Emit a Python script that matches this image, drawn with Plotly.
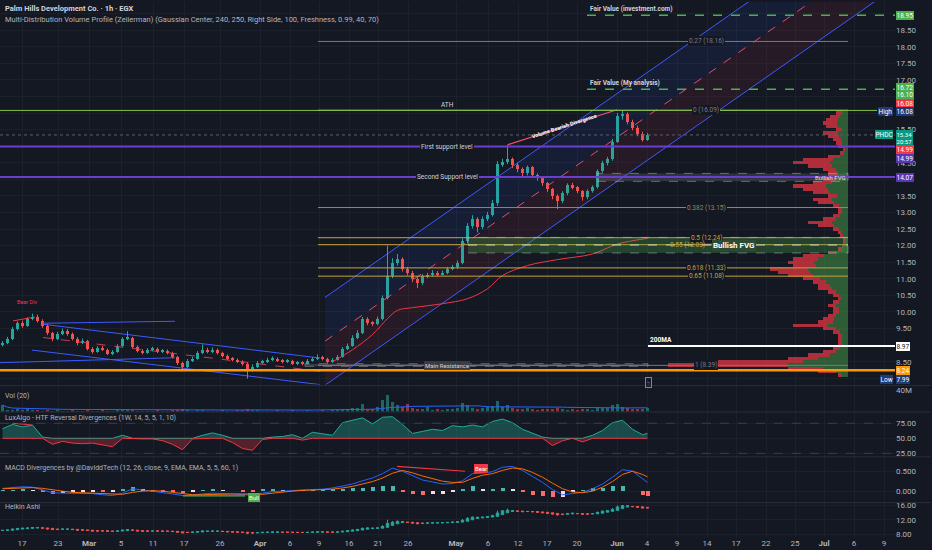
import numpy as np
import pandas as pd
import plotly.graph_objects as go
from plotly.subplots import make_subplots

# ---- 1h candles for PHDC (one entry per plotted bar) ----
first_open = 9.00
closes = [9.07, 9.19, 9.49, 9.67, 9.58, 9.79, 9.85, 9.73, 9.58, 9.37,
          9.19, 9.34, 9.43, 9.34, 9.19, 9.07, 9.13, 8.89, 8.80, 8.92,
          8.86, 8.74, 8.80, 8.98, 9.19, 9.22, 8.95, 8.83, 8.77, 8.86,
          8.89, 8.80, 8.83, 8.77, 8.65, 8.47, 8.35, 8.53, 8.59, 8.77,
          8.86, 8.80, 8.86, 8.77, 8.68, 8.59, 8.56, 8.50, 8.44, 8.29,
          8.35, 8.47, 8.50, 8.56, 8.59, 8.53, 8.50, 8.53, 8.44, 8.47,
          8.44, 8.53, 8.59, 8.65, 8.59, 8.50, 8.56, 8.65, 8.89, 8.98,
          9.22, 9.37, 9.79, 9.67, 9.64, 9.79, 10.42, 11.08, 11.48, 11.60,
          11.30, 11.18, 11.00, 10.87, 11.08, 11.11, 11.18, 11.14, 11.18, 11.30,
          11.36, 11.48, 12.14, 12.59, 12.80, 12.56, 12.80, 12.92, 13.28, 14.45,
          14.51, 14.60, 14.42, 14.30, 14.18, 14.36, 14.12, 14.03, 13.88, 13.70,
          13.49, 13.34, 13.58, 13.82, 13.76, 13.64, 13.46, 13.64, 13.76, 14.24,
          14.48, 14.60, 15.14, 15.92, 15.98, 15.74, 15.56, 15.38, 15.20, 15.34]
highs = [9.12, 9.25, 9.55, 9.72, 9.74, 9.84, 9.95, 9.92, 9.78, 9.62,
         9.40, 9.40, 9.50, 9.48, 9.38, 9.24, 9.20, 9.16, 8.94, 8.97,
         8.98, 8.90, 8.85, 9.03, 9.24, 9.42, 9.25, 8.99, 8.88, 8.91,
         8.95, 8.93, 8.88, 8.87, 8.80, 8.68, 8.50, 8.58, 8.65, 8.82,
         9.02, 8.92, 8.93, 8.90, 8.80, 8.72, 8.64, 8.60, 8.54, 8.47,
         8.42, 8.52, 8.56, 8.62, 8.66, 8.63, 8.58, 8.58, 8.56, 8.52,
         8.51, 8.58, 8.64, 8.72, 8.68, 8.62, 8.61, 8.70, 8.94, 9.05,
         9.30, 9.45, 9.85, 9.84, 9.72, 9.86, 10.50, 12.00, 11.62, 11.75,
         11.65, 11.36, 11.24, 11.05, 11.14, 11.18, 11.26, 11.24, 11.25, 11.36,
         11.42, 11.55, 12.22, 12.68, 12.92, 12.86, 12.88, 13.02, 13.38, 14.55,
         14.62, 15.05, 14.66, 14.50, 14.36, 14.42, 14.40, 14.18, 14.08, 13.92,
         13.74, 13.55, 13.64, 13.88, 13.90, 13.80, 13.68, 13.70, 13.82, 14.30,
         14.56, 14.68, 15.22, 16.00, 16.08, 16.02, 15.80, 15.62, 15.44, 15.40]
lows = [8.96, 9.03, 9.15, 9.44, 9.52, 9.55, 9.75, 9.68, 9.52, 9.30,
        9.12, 9.15, 9.30, 9.28, 9.14, 9.00, 9.03, 8.84, 8.74, 8.77,
        8.82, 8.70, 8.70, 8.77, 8.95, 9.15, 8.90, 8.78, 8.72, 8.74,
        8.82, 8.76, 8.76, 8.72, 8.60, 8.40, 8.22, 8.31, 8.49, 8.56,
        8.73, 8.75, 8.76, 8.72, 8.63, 8.55, 8.51, 8.46, 8.38, 7.99,
        8.20, 8.31, 8.43, 8.46, 8.52, 8.49, 8.45, 8.46, 8.40, 8.40,
        8.39, 8.41, 8.50, 8.55, 8.54, 8.45, 8.46, 8.53, 8.62, 8.85,
        8.95, 9.18, 9.33, 9.60, 9.58, 9.60, 9.75, 10.38, 11.02, 11.40,
        11.22, 11.10, 10.90, 10.72, 10.82, 11.02, 11.06, 11.08, 11.10, 11.14,
        11.26, 11.30, 11.44, 12.08, 12.52, 12.40, 12.50, 12.74, 12.88, 13.20,
        14.38, 14.46, 14.34, 14.22, 14.10, 14.12, 14.04, 13.96, 13.80, 13.62,
        13.40, 13.10, 13.28, 13.52, 13.70, 13.58, 13.36, 13.40, 13.60, 13.72,
        14.20, 14.42, 14.56, 15.10, 15.80, 15.66, 15.48, 15.30, 15.14, 15.16]
volume_m = [12, 4, 3, 5, 3, 6, 4, 3, 2, 3,
            2, 3, 2, 2, 3, 2, 2, 3, 2, 2,
            3, 2, 2, 4, 3, 6, 3, 2, 2, 2,
            2, 3, 2, 2, 3, 4, 5, 3, 2, 3,
            4, 2, 2, 2, 3, 2, 2, 3, 3, 6,
            4, 3, 2, 2, 2, 3, 2, 2, 3, 2,
            2, 3, 2, 2, 3, 2, 3, 4, 6, 5,
            8, 7, 14, 6, 5, 9, 22, 31, 18, 12,
            9, 14, 8, 6, 5, 10, 4, 5, 4, 6,
            5, 7, 16, 12, 8, 6, 7, 9, 11, 20,
            10, 13, 8, 6, 5, 7, 5, 4, 6, 5,
            6, 8, 5, 4, 5, 4, 5, 6, 4, 9,
            8, 7, 12, 14, 9, 7, 6, 5, 5, 8]

# on-chart moving average (red), sampled points
ma_bars = [66, 70, 74, 77, 79, 82, 88, 93, 97, 100, 105, 111, 118, 123, 129]
ma_vals = [8.50, 8.86, 9.32, 9.80, 10.05, 10.13, 10.25, 10.40, 10.70, 11.10,
           11.40, 11.58, 11.75, 12.05, 12.22]

# LuxAlgo oscillator + MACD, every second bar (last one = last bar)
osc_vals = [66, 73, 69, 72, 52, 40, 45, 42, 41, 42,
            39, 36, 55, 49, 49, 49, 46, 40, 31, 49,
            55, 59, 55, 43, 33, 30, 48, 52, 53, 56,
            47, 60, 58, 55, 76, 80, 84, 74, 85, 86,
            73, 58, 62, 65, 63, 71, 69, 72, 69, 78,
            82, 76, 65, 59, 52, 38, 46, 51, 44, 55,
            63, 76, 80, 65, 56, 58]
macd_vals = [0.07, 0.09, 0.11, 0.10, 0.03, -0.04, -0.05, -0.05, -0.05, -0.06,
             -0.09, -0.11, -0.05, 0.06, 0.03, 0.00, -0.03, -0.07, -0.11, -0.10,
             -0.07, -0.05, -0.06, -0.07, -0.08, -0.10, -0.05, -0.01, 0.00, 0.02,
             0.03, 0.04, 0.05, 0.08, 0.13, 0.18, 0.26, 0.33, 0.44, 0.58,
             0.50, 0.39, 0.28, 0.23, 0.18, 0.19, 0.26, 0.44, 0.45, 0.49,
             0.60, 0.62, 0.52, 0.37, 0.22, 0.04, -0.09, -0.06, -0.03, 0.06,
             0.18, 0.35, 0.54, 0.50, 0.32, 0.22]
signal_vals = [0.06, 0.07, 0.08, 0.09, 0.07, 0.03, 0.00, -0.03, -0.04, -0.05,
               -0.06, -0.08, -0.08, -0.03, 0.00, 0.01, 0.00, -0.03, -0.06, -0.09,
               -0.09, -0.08, -0.07, -0.07, -0.07, -0.08, -0.08, -0.05, -0.02, 0.00,
               0.02, 0.03, 0.04, 0.05, 0.08, 0.12, 0.18, 0.24, 0.33, 0.45,
               0.52, 0.46, 0.38, 0.31, 0.25, 0.22, 0.22, 0.32, 0.40, 0.44,
               0.52, 0.58, 0.56, 0.47, 0.35, 0.20, 0.06, -0.02, -0.04, 0.00,
               0.10, 0.24, 0.42, 0.50, 0.42, 0.36]

# volume profile rows (price 8.1 .. 16.0 step 0.1), bull / bear part
vp_bull = [6, 12, 25, 60, 45, 30, 18, 12, 8, 6,
           6, 6, 6, 8, 12, 20, 15, 14, 12, 9,
           9, 12, 9, 7, 9, 12, 16, 18, 22, 28,
           35, 38, 40, 32, 34, 30, 24, 12, 6, 4,
           3, 3, 5, 6, 9, 14, 16, 12, 8, 6,
           6, 9, 14, 16, 11, 18, 20, 22, 16, 12,
           10, 10, 12, 16, 18, 15, 8, 4, 3, 5,
           6, 7, 9, 10, 6, 10, 11, 10, 8, 6]
vp_bear = [4, 18, 35, 120, 85, 30, 22, 13, 7, 4,
           4, 4, 4, 7, 13, 35, 15, 11, 8, 6,
           6, 8, 6, 3, 6, 8, 14, 12, 13, 17,
           25, 32, 38, 23, 26, 25, 21, 8, 4, 2,
           2, 2, 3, 4, 6, 16, 24, 13, 7, 4,
           4, 6, 16, 19, 9, 17, 25, 33, 19, 13,
           10, 10, 13, 24, 37, 30, 12, 4, 2, 5,
           6, 8, 11, 15, 6, 12, 14, 12, 10, 6]

# levels
fib_names = ["0.27", "0", "0.382", "0.5", "0.55", "0.618", "0.65", "1"]
fib_prices = [18.16, 16.09, 13.15, 12.24, 12.03, 11.33, 11.08, 8.39]
fair_value_inv = 18.95
fair_value_my = 16.72
ath = 16.08
first_support = 14.99
second_support = 14.07
ma200 = 8.97
main_res = 8.24
last_price = 15.34
low_price = 7.99

tick_pos = [3.9, 11.1, 17.3, 23.7, 30.1, 36.3, 43.5, 51.5, 57.5, 63.3, 69.3, 75.1,
            81.1, 90.7, 97.1, 103.1, 108.9, 114.9, 122.9, 128.9, 134.9, 140.9,
            146.7, 152.7, 158.5, 164.3, 170.3, 176.3]
tick_text = ["17", "23", "<b>Mar</b>", "5", "11", "17", "26", "<b>Apr</b>", "6", "9",
             "16", "21", "26", "<b>May</b>", "6", "12", "17", "20", "<b>Jun</b>", "4",
             "9", "14", "17", "22", "25", "<b>Jul</b>", "6", "9"]
price_ticks = [8.5, 9.5, 10.0, 10.5, 11.0, 11.5, 12.0, 12.5, 13.0, 13.5, 14.5, 15.5,
               17.0, 17.5, 18.0, 18.5]
price_grid_only = [8.0, 9.0, 14.0, 15.0, 16.0, 16.5, 19.0]

BG = "#141823"
GRID = "#1c202b"
TXT = "#b2b5be"
UP = "#26a69a"
DN = "#ef5350"
FONT = "Roboto"

bars = list(range(len(closes)))
opens = [first_open] + closes[:-1]
sub_x = list(range(0, len(closes), 2)) + [len(closes) - 1]
XR = [-0.5, 178.5]

fig = make_subplots(rows=5, cols=1, shared_xaxes=True, vertical_spacing=0)

# --- ascending channel fills + lines ---
ch_x = [64.5, 178.5]
ch_low = [7.79, 19.79]
ch_mid = [9.12, 21.12]
ch_up = [10.44, 22.44]
fig.add_trace(go.Scatter(x=ch_x, y=ch_low, mode="lines", line=dict(color="#3d5afe", width=1),
                         hoverinfo="skip"), row=1, col=1)
fig.add_trace(go.Scatter(x=ch_x, y=ch_mid, mode="lines", line=dict(color="#e0506a", width=1, dash="dash"),
                         fill="tonexty", fillcolor="rgba(242,54,69,0.08)", hoverinfo="skip"), row=1, col=1)
fig.add_trace(go.Scatter(x=ch_x, y=ch_up, mode="lines", line=dict(color="#3d5afe", width=1),
                         fill="tonexty", fillcolor="rgba(41,98,255,0.09)", hoverinfo="skip"), row=1, col=1)


def seg(xs, ys, color, width=1, dash="solid", row=1):
    fig.add_trace(go.Scatter(x=xs, y=ys, mode="lines", line=dict(color=color, width=width, dash=dash),
                             hoverinfo="skip"), row=row, col=1)


# descending channel on the left
seg([8.1, 63.5], [9.63, 8.61], "#3d5afe")
seg([5.9, 63.5], [8.85, 7.81], "#3d5afe")
seg([8.1, 34.5], [9.66, 9.72], "#3d5afe")
seg([-0.5, 34.5], [8.47, 8.62], "#3d5afe")
seg([8.1, 63.5], [9.23, 8.21], "#c2405a", 1, "dash")
seg([2.1, 6.5], [9.73, 9.85], "#f23645")
# volume bearish divergence
seg([101.1, 122.9], [15.05, 16.10], "#f0506e", 1.2)

# MA
fig.add_trace(go.Scatter(x=ma_bars, y=ma_vals, mode="lines", line=dict(color="#f23645", width=1),
                         line_shape="spline", hoverinfo="skip"), row=1, col=1)

# candles: wicks as line segments, bodies as floating bars
for is_up, col in [(True, UP), (False, DN)]:
    wx, wy = [], []
    for i, (o, h, l, c) in enumerate(zip(opens, highs, lows, closes)):
        if (c >= o) == is_up:
            wx += [i, i, None]
            wy += [l, h, None]
    fig.add_trace(go.Scatter(x=wx, y=wy, mode="lines", line=dict(color=col, width=1),
                             hoverinfo="skip"), row=1, col=1)
body_base = [min(o, c) for o, c in zip(opens, closes)]
body_len = [max(abs(c - o), 0.02) for o, c in zip(opens, closes)]
body_col = [UP if c >= o else DN for o, c in zip(opens, closes)]
fig.add_trace(go.Bar(x=bars, y=body_len, base=body_base, width=0.55,
                     marker=dict(color=body_col, line=dict(width=0)), hoverinfo="skip"), row=1, col=1)

# volume pane
vol = [v * 1e6 for v in volume_m]
vcol = ["rgba(38,166,154,0.55)" if c >= o else "rgba(239,83,80,0.55)" for o, c in zip(opens, closes)]
fig.add_trace(go.Bar(x=bars, y=vol, marker=dict(color=vcol, line=dict(width=0)), width=0.5,
                     hoverinfo="skip"), row=2, col=1)
vol_ma = pd.Series(vol).rolling(20, min_periods=1).mean()
fig.add_trace(go.Scatter(x=bars, y=vol_ma, mode="lines", line=dict(color="#2962ff", width=1),
                         hoverinfo="skip"), row=2, col=1)

# LuxAlgo oscillator
osc = np.array(osc_vals, dtype=float)
base = [50] * len(osc)
fig.add_trace(go.Scatter(x=sub_x, y=base, mode="lines", line=dict(width=0), hoverinfo="skip"), row=3, col=1)
fig.add_trace(go.Scatter(x=sub_x, y=np.maximum(osc, 50), mode="lines", line=dict(color="#22ab94", width=1),
                         fill="tonexty", fillcolor="rgba(34,171,148,0.35)", hoverinfo="skip"), row=3, col=1)
fig.add_trace(go.Scatter(x=sub_x, y=base, mode="lines", line=dict(width=0), hoverinfo="skip"), row=3, col=1)
fig.add_trace(go.Scatter(x=sub_x, y=np.minimum(osc, 50), mode="lines", line=dict(color="#f23645", width=1),
                         fill="tonexty", fillcolor="rgba(242,54,69,0.3)", hoverinfo="skip"), row=3, col=1)
seg([2, 6], [75, 72], "#f23645", 1, row=3)

# MACD
macd = np.array(macd_vals)
sig = np.array(signal_vals)
hist = macd - sig
hcol = []
for i, h in enumerate(hist):
    prev = hist[i - 1] if i else h
    if h >= 0:
        hcol.append("#4db6ac" if h >= prev else "#d7ece9")
    else:
        hcol.append("#ff6b6b" if h < prev else "#ffd6dc")
fig.add_trace(go.Bar(x=sub_x, y=hist, marker=dict(color=hcol, line=dict(width=0)), width=0.8,
                     hoverinfo="skip"), row=4, col=1)
fig.add_trace(go.Scatter(x=sub_x, y=macd, mode="lines", line=dict(color="#2962ff", width=1),
                         hoverinfo="skip"), row=4, col=1)
fig.add_trace(go.Scatter(x=sub_x, y=sig, mode="lines", line=dict(color="#ff6d00", width=1),
                         hoverinfo="skip"), row=4, col=1)
seg([78.9, 92.5], [0.62, 0.50], "#f23645", 1.2, row=4)
seg([36.1, 48.5], [-0.12, -0.12], "#4caf50", 1.2, row=4)

# Heikin Ashi
ha_close = [(o + h + l + c) / 4 for o, h, l, c in zip(opens, highs, lows, closes)]
ha_open = [(opens[0] + closes[0]) / 2]
for i in range(1, len(closes)):
    ha_open.append((ha_open[-1] + ha_close[i - 1]) / 2)
ha_high = [max(h, o, c) for h, o, c in zip(highs, ha_open, ha_close)]
ha_low = [min(l, o, c) for l, o, c in zip(lows, ha_open, ha_close)]
fig.add_trace(go.Candlestick(x=bars, open=ha_open, high=ha_high, low=ha_low, close=ha_close,
                             increasing=dict(line=dict(color=UP, width=1), fillcolor=UP),
                             decreasing=dict(line=dict(color=DN, width=1), fillcolor=DN),
                             whiskerwidth=0, hoverinfo="skip"), row=5, col=1)

# ---- axes ----
fig.update_xaxes(range=XR, tickvals=tick_pos, ticktext=tick_text, showgrid=True, gridcolor=GRID,
                 gridwidth=1, zeroline=False, showline=False, rangeslider_visible=False,
                 tickfont=dict(color=TXT, size=8, family=FONT), ticks="")
ydef = dict(side="right", showgrid=True, gridcolor=GRID, zeroline=False, showline=False, ticks="",
            tickfont=dict(color=TXT, size=8, family=FONT), fixedrange=True)
fig.update_layout(
    yaxis=dict(domain=[0.2849, 1], range=[7.81, 19.35], tickvals=price_ticks, tickformat=".2f",
               minor=dict(tickvals=price_grid_only, showgrid=True, gridcolor=GRID, ticks=""), **ydef),
    yaxis2=dict(domain=[0.2346, 0.2831], range=[0, 48e6], tickvals=[40e6], ticktext=["40M"], **ydef),
    yaxis3=dict(domain=[0.1508, 0.2328], range=[20, 93], tickvals=[25, 50, 75], tickformat=".2f", **ydef),
    yaxis4=dict(domain=[0.0652, 0.1490], range=[-0.275, 0.85], tickvals=[0, 0.5], tickformat=".3f", **ydef),
    yaxis5=dict(domain=[0, 0.0633], range=[7.2, 16.6], tickvals=[8, 12, 16], tickformat=".2f", **ydef),
)
fig.update_yaxes(showgrid=False, selector=dict(anchor="x2"))

# volume profile on an overlaid axis, anchored at the right edge of the profile box
vp_levels = [round(8.1 + 0.1 * i, 1) for i in range(len(vp_bull))]
fig.update_layout(xaxis6=dict(overlaying="x", anchor="y", range=[848, -47], visible=False, fixedrange=True))
fig.add_trace(go.Bar(y=vp_levels, x=vp_bull, orientation="h", xaxis="x6", yaxis="y", width=0.1,
                     marker=dict(color="rgba(76,175,80,0.45)", line=dict(width=0)), hoverinfo="skip"))
fig.add_trace(go.Bar(y=vp_levels, x=vp_bear, orientation="h", xaxis="x6", yaxis="y", width=0.1,
                     base=vp_bull, marker=dict(color="rgba(242,54,69,0.7)", line=dict(width=0)),
                     hoverinfo="skip"))

# ---- shapes: horizontal levels, boxes ----
shapes = []


def hline(x0, x1, y, color, width=1, dash="solid", yref="y"):
    shapes.append(dict(type="line", xref="x", yref=yref, x0=x0, x1=x1, y0=y, y1=y,
                       line=dict(color=color, width=width, dash=dash), layer="above"))


def box(x0, x1, y0, y1, fill, line, dash="dash"):
    shapes.append(dict(type="rect", xref="x", yref="y", x0=x0, x1=x1, y0=y0, y1=y1,
                       fillcolor=fill, line=dict(color=line, width=1, dash=dash), layer="above"))


fib_colors = ["#787b86", "#787b86", "#8f8c5a", "#c9a43a", "#c9a43a", "#c9a43a", "#c9a43a", "#787b86"]
for p, c in zip(fib_prices, fib_colors):
    hline(63.1, 169.1, p, c)
box(93.1, 169.1, 11.78, 12.25, "rgba(76,175,80,0.28)", "rgba(200,200,200,0.45)")
hline(93.1, 169.1, 12.02, "rgba(230,230,230,0.8)", 1, "dash")
box(118.9, 169.1, 13.94, 14.18, "rgba(140,160,140,0.22)", "rgba(200,200,200,0.45)")
box(60.5, 129.1, 8.36, 8.44, "rgba(120,123,134,0.35)", "rgba(150,150,150,0.6)")
hline(116.9, 178.5, fair_value_inv, "#4caf50", 1.5, "dash")
hline(116.9, 178.5, fair_value_my, "#4caf50", 1.5, "dash")
hline(-0.5, 174.9, ath, "#8bc34a", 1)
hline(-0.5, 178.5, last_price, "#5d606b", 1, "dot")
hline(-0.5, 178.5, first_support, "#6a3fd0", 2)
hline(-0.5, 178.5, second_support, "#6a3fd0", 2)
hline(129.1, 178.5, ma200, "#ffffff", 2)
hline(-0.5, 178.5, main_res, "#ff9800", 2.5)
hline(-0.5, 178.5, 75, "#3a3e4a", 1, "dash", "y3")
hline(-0.5, 178.5, 25, "#3a3e4a", 1, "dash", "y3")
for yy in [1 - 385 / 537, 1 - 411.5 / 537, 1 - 456.5 / 537, 1 - 502.5 / 537]:
    shapes.append(dict(type="line", xref="paper", yref="paper", x0=0, x1=1.04, y0=yy, y1=yy,
                       line=dict(color="#2a2e39", width=1)))
fig.update_layout(shapes=shapes)

# ---- annotations ----
ann = []


def lab(x, y, text, color="#d1d4dc", size=6.5, xanchor="center", bg=None, yref="y", xref="x",
        yshift=0, angle=0, bold=False, border=None, pad=1):
    t = f"<b>{text}</b>" if bold else text
    ann.append(dict(x=x, y=y, xref=xref, yref=yref, text=t, showarrow=False, xanchor=xanchor,
                    yanchor="middle", yshift=yshift, textangle=angle,
                    font=dict(color=color, size=size, family=FONT),
                    bgcolor=bg, borderpad=pad, bordercolor=border, borderwidth=1 if border else 0))


lab(117.3, fair_value_inv, "Fair Value (investment.com)", xanchor="left", yshift=6, bold=True)
lab(117.3, fair_value_my, "Fair Value (My analysis)", xanchor="left", yshift=6, bold=True)
lab(88.9, ath, "ATH", yshift=5)
lab(88.9, first_support, "First support level", bg=BG)
lab(88.9, second_support, "Second Support level", bg=BG)
lab(88.9, 8.40, "Main Resistance", size=6, bg="rgba(60,62,70,0.9)")
for n, p, c in zip(fib_names, fib_prices, fib_colors):
    if n == "0.55":
        lab(137.0, p, f"{n} ({p:.2f})", color=c)
    else:
        lab(140.7, p, f"{n} ({p:.2f})", color=c, bg=BG)
lab(141.9, 12.02, "Bullish FVG", color="#ffffff", size=8, xanchor="left", bg="#2c4a34", bold=True)
lab(165.5, second_support, "Bullish FVG", color="#e0e0e0", size=6)
lab(129.3, ma200, "200MA", color="#ffffff", xanchor="left", yshift=6, bold=True)
lab(112.3, 15.62, "Volume Bearish Divergence", color="#ffffff", size=5.5, angle=-18, bold=True)
lab(4.9, 10.30, "Bear Div", color="#f23645", size=5.5)
lab(129.1, 7.86, "ϟ", color="#9c6ade", size=6, border="#9c6ade")
lab(95.6, 0.57, "Bear", color="#ffffff", size=6, bg="#f23645", yref="y4")
lab(50.3, -0.17, "Bull", color="#ffffff", size=6, bg="#4caf50", yref="y4")

# price tags on the right scale
tags = [("18.95", fair_value_inv, "#4caf50", "#ffffff", 0),
        ("16.72", fair_value_my, "#4caf50", "#ffffff", 2),
        ("16.10", 16.10, "#4caf50", "#ffffff", 15),
        ("16.08", ath, "#f23645", "#ffffff", 7),
        ("16.08", ath, "#1e3a78", "#ffffff", -1),
        ("15.34<br>20:57", last_price, "#089981", "#ffffff", -3),
        ("14.99", first_support, "#f23645", "#ffffff", -3),
        ("14.99", first_support, "#5e35b1", "#ffffff", -12),
        ("14.07", second_support, "#5e35b1", "#ffffff", 0),
        ("8.97", ma200, "#ffffff", "#131722", 0),
        ("8.24", main_res, "#ff9800", "#ffffff", 0),
        ("7.99", low_price, "#1e3a78", "#ffffff", -1)]
for t, p, bgc, fc, sh in tags:
    sz = 6 if "<br>" in t else 6.5
    lab(1.001, p, t, color=fc, size=sz, xanchor="left", bg=bgc, xref="paper", yshift=sh, pad=0.5)
lab(0.998, ath, "High", color="#ffffff", size=6.5, xanchor="right", bg="#1e3a78", xref="paper", yshift=-1, pad=0.5)
lab(0.998, last_price, "PHDC", color="#ffffff", size=6.5, xanchor="right", bg="#089981", xref="paper", pad=0.5)
lab(0.998, low_price, "Low", color="#ffffff", size=6.5, xanchor="right", bg="#1e3a78", xref="paper", yshift=-1, pad=0.5)

# titles / pane legends
lab(0.005, 1 - 7 / 537, "Palm Hills Development Co. · 1h · EGX", color="#d1d4dc", size=7.5,
    xanchor="left", xref="paper", yref="paper", bold=True)
lab(0.005, 1 - 18 / 537,
    "Multi-Distribution Volume Profile (Zeiierman) (Gaussian Center, 240, 250, Right Side, 100, Freshness, 0.99, 40, 70)",
    color=TXT, size=7.5, xanchor="left", xref="paper", yref="paper")
lab(0.005, 1 - 395 / 537, "Vol (20)", color=TXT, size=7, xanchor="left", xref="paper", yref="paper")
lab(0.005, 1 - 418 / 537, "LuxAlgo - HTF Reversal Divergences (1W, 14, 5, 5, 1, 10)", color=TXT, size=7,
    xanchor="left", xref="paper", yref="paper")
lab(0.005, 1 - 468 / 537, "MACD Divergences by @DaviddTech (12, 26, close, 9, EMA, EMA, 5, 5, 60, 1)",
    color=TXT, size=7, xanchor="left", xref="paper", yref="paper")
lab(0.005, 1 - 507 / 537, "Heikin Ashi", color=TXT, size=7, xanchor="left", xref="paper", yref="paper")

fig.update_layout(annotations=ann)

fig.update_layout(
    width=932, height=550,
    margin=dict(l=0, r=37, t=0, b=13),
    paper_bgcolor=BG, plot_bgcolor=BG,
    showlegend=False, barmode="overlay", bargap=0,
    font=dict(family=FONT, color=TXT, size=8),
    hovermode=False,
)

fig.write_html("out.html", config={"displayModeBar": False},
               post_script="document.body.style.margin='0';")
